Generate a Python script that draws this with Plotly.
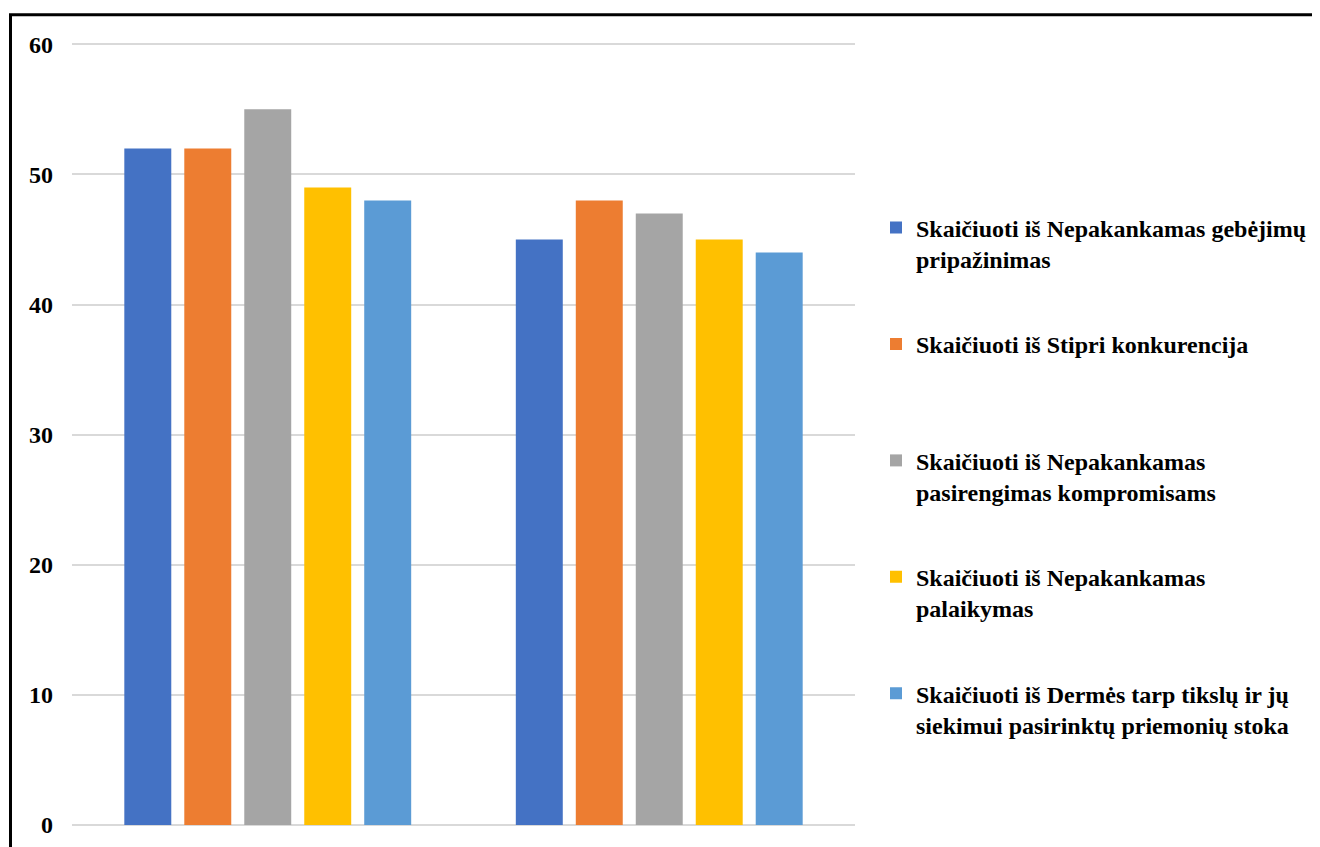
import plotly.graph_objects as go

categories = ["1", "2"]
series_names = [
    "Skaičiuoti iš Nepakankamas gebėjimų<br>pripažinimas",
    "Skaičiuoti iš Stipri konkurencija<br>\u00a0",
    "Skaičiuoti iš Nepakankamas<br>pasirengimas kompromisams",
    "Skaičiuoti iš Nepakankamas<br>palaikymas",
    "Skaičiuoti iš Dermės tarp tikslų ir jų<br>siekimui pasirinktų priemonių stoka",
]
values = [
    [52, 45],
    [52, 48],
    [55, 47],
    [49, 45],
    [48, 44],
]
colors = ["#4472C4", "#ED7D31", "#A5A5A5", "#FFC000", "#5B9BD5"]
y_ticks = [0, 10, 20, 30, 40, 50, 60]

# the page body adds an 8px offset; layout is shifted to compensate
OFF = 8
W, H = 1320, 847
L, R, T, B = 72 - OFF, 1320 - (855 - OFF), 35, 847 - (825 - OFF)
pw, ph = W - L - R, H - T - B

fig = go.Figure()
for i, (name, vals, col) in enumerate(zip(series_names, values, colors)):
    fig.add_trace(go.Bar(
        x=categories, y=vals, name=name,
        marker=dict(color=col, line=dict(width=0)),
        legendgroup=f"g{i}",
    ))

fnt = dict(family="Liberation Serif", size=24, color="black", weight="bold")

fig.update_layout(
    width=W, height=H,
    margin=dict(l=L, r=R, t=T, b=B),
    paper_bgcolor="white", plot_bgcolor="white",
    font=fnt,
    barmode="group",
    bargap=0.234,
    bargroupgap=0.217,
    showlegend=True,
    legend=dict(
        x=(868 - L) / pw, xanchor="left",
        y=(H - B - 197.5) / ph, yanchor="top",
        traceorder="grouped",
        tracegroupgap=51,
        valign="top",
        font=fnt,
        bgcolor="rgba(0,0,0,0)",
    ),
    xaxis=dict(showticklabels=False, showgrid=False, showline=False, ticks="",
               zeroline=False),
    yaxis=dict(range=[0, 60.1], tickvals=y_ticks, showgrid=True, gridcolor="#D9D9D9",
               gridwidth=1.5, zeroline=True, zerolinecolor="#D9D9D9", zerolinewidth=1.5,
               showline=False, ticks="", ticklabelstandoff=18,
               tickfont=fnt),
    shapes=[dict(
        type="rect", xref="paper", yref="paper",
        x0=(2.5 - L) / pw, x1=(1340 - L) / pw,
        y0=(H - B - 870) / ph, y1=(H - B - 6.8) / ph,
        line=dict(color="black", width=3), fillcolor="rgba(0,0,0,0)",
        layer="above",
    )],
)

fig.write_html("out.html")
